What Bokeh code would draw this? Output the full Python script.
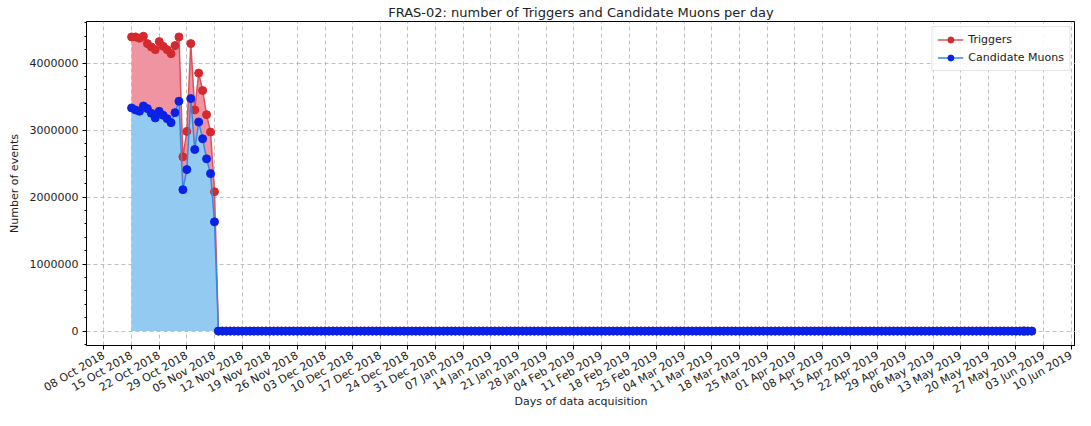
import pandas as pd
from datetime import datetime
from math import pi
from bokeh.plotting import figure
from bokeh.models import (ColumnDataSource, DatetimeTickFormatter, FixedTicker,
                          BasicTickFormatter, Legend, LegendItem,
                          Range1d, SingleIntervalTicker)
from bokeh.embed import file_html
from bokeh.resources import INLINE

# ---------------- data ----------------
first_day = "2018-10-15"
triggers_active = [4390000, 4390000, 4370000, 4400000, 4290000, 4240000, 4200000,
                   4320000, 4250000, 4200000, 4140000, 4260000, 4390000, 2600000,
                   2980000, 4290000, 3300000, 3850000, 3590000, 3230000, 2970000,
                   2080000]
muons_active = [3330000, 3300000, 3280000, 3360000, 3320000, 3250000, 3180000,
                3280000, 3220000, 3170000, 3110000, 3260000, 3430000, 2110000,
                2410000, 3470000, 2710000, 3120000, 2870000, 2570000, 2350000,
                1630000]
n_zero_days = 207          # days with 0 events (06 Nov 2018 .. 31 May 2019)
zero_days = [0] * n_zero_days
triggers = triggers_active + zero_days
muons = muons_active + zero_days
dates = pd.date_range(first_day, periods=len(triggers), freq="D")

tick_first = "2018-10-08"
tick_last = "2019-06-10"

title_text = "FRAS-02: number of Triggers and Candidate Muons per day"
x_label = "Days of data acquisition"
y_label = "Number of events"
series_names = ["Triggers", "Candidate Muons"]

# ---------------- plot ----------------
FONT = "DejaVu Sans"
src = ColumnDataSource(dict(date=dates, trig=triggers, muon=muons))

tick_dates = pd.date_range(tick_first, tick_last, freq="7D")
tick_ms = [int(t.value // 10**6) for t in tick_dates]

x_start = datetime(2018, 10, 3, 14)
x_end = datetime(2019, 6, 11, 2)
p = figure(width=1075, height=410, output_backend="svg", toolbar_location=None,
           x_axis_type="datetime",
           x_range=Range1d(x_start, x_end),
           y_range=Range1d(-215000, 4620000),
           min_border_left=86, min_border_right=0, min_border_bottom=0,
           min_border_top=0)

p.title.text = title_text
p.title.align = "center"
p.title.text_font = FONT
p.title.text_font_size = "13px"
p.title.text_font_style = "normal"
p.title.text_color = "#222222"
p.title.standoff = 4
p.outline_line_color = "black"
p.outline_line_width = 1

red_fill = p.varea(x="date", y1=0, y2="trig", source=src, fill_color="#ef94a0", fill_alpha=1.0)
blue_fill = p.varea(x="date", y1=0, y2="muon", source=src, fill_color="#92caf2", fill_alpha=1.0)
r_line = p.line(x="date", y="trig", source=src, line_color="#e0505a", line_width=1.5)
r_pts = p.scatter(x="date", y="trig", source=src, size=8, fill_color="#d42a2e",
                  line_color="#d42a2e")
b_line = p.line(x="date", y="muon", source=src, line_color="#3a86e0", line_width=1.5)
b_pts = p.scatter(x="date", y="muon", source=src, size=8, fill_color="#0a22e6",
                  line_color="#0a22e6")

fmt = "%d %b %Y"
xfmt = DatetimeTickFormatter(milliseconds=fmt, seconds=fmt, minsec=fmt, minutes=fmt,
                             hourmin=fmt, hours=fmt, days=fmt, months=fmt, years=fmt)
xt = FixedTicker(ticks=tick_ms, minor_ticks=[])
xa = p.xaxis[0]
xa.ticker = xt
xa.formatter = xfmt
xa.major_label_orientation = pi / 6
xa.axis_label = x_label

ya = p.yaxis[0]
ya.ticker = SingleIntervalTicker(interval=1000000, num_minor_ticks=5)
ya.formatter = BasicTickFormatter(use_scientific=False)
ya.axis_label = y_label

for ax in (xa, ya):
    ax.major_label_text_font = FONT
    ax.major_label_text_font_size = "11px"
    ax.major_label_text_color = "#222222"
    ax.axis_label_text_font = FONT
    ax.axis_label_text_font_size = "11px"
    ax.axis_label_text_font_style = "normal"
    ax.axis_label_text_color = "#222222"
    ax.axis_line_color = "black"
    ax.major_tick_line_color = "black"
    ax.minor_tick_line_color = "black"
    ax.major_tick_out = 4
    ax.major_tick_in = 0
    ax.minor_tick_out = 2
    ax.minor_tick_in = 0
xa.major_label_standoff = 5
xa.axis_label_standoff = -10
ya.major_label_standoff = 4
ya.axis_label_standoff = 6

for g in (p.xgrid[0], p.ygrid[0]):
    g.grid_line_color = "#b0b0b0"
    g.grid_line_dash = "4 3"
    g.grid_line_width = 0.8
p.xgrid[0].ticker = xt
p.ygrid[0].ticker = SingleIntervalTicker(interval=1000000)

legend = Legend(items=[LegendItem(label=series_names[0], renderers=[r_line, r_pts]),
                       LegendItem(label=series_names[1], renderers=[b_line, b_pts])],
                location="top_right")
legend.label_text_font = FONT
legend.label_text_font_size = "11px"
legend.label_text_color = "#222222"
legend.glyph_width = 26
legend.glyph_height = 15
legend.label_height = 15
legend.spacing = 3
legend.padding = 5
legend.margin = 5
legend.border_line_color = "#cccccc"
legend.background_fill_alpha = 0.85
p.add_layout(legend)

open("out.html", "w").write(file_html(p, INLINE))
